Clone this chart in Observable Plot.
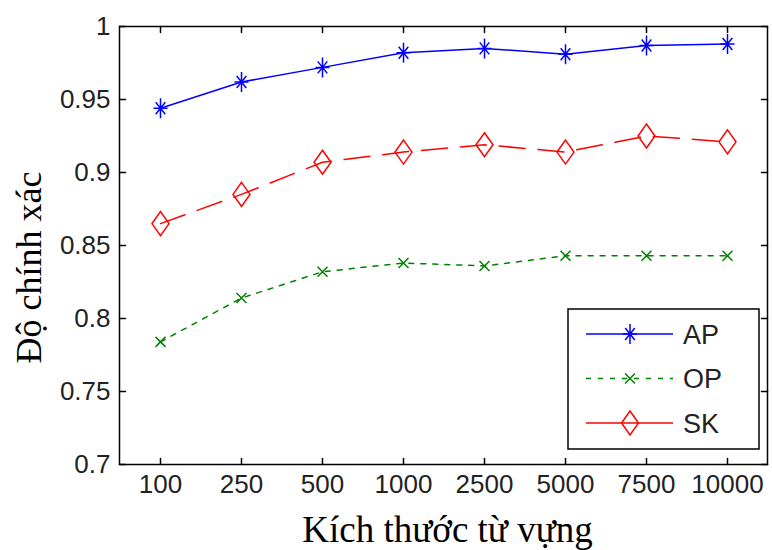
<!DOCTYPE html>
<html><head><meta charset="utf-8">
<script src="https://cdn.jsdelivr.net/npm/d3@7"></script>
<script src="https://cdn.jsdelivr.net/npm/@observablehq/plot@0.6"></script>
<style>body{margin:0;background:#fff}</style>
</head><body><div id="chart"></div>
<script>
const sizes = ["100","250","500","1000","2500","5000","7500","10000"];
const apValues = [0.944,0.962,0.972,0.982,0.985,0.981,0.987,0.988];
const opValues = [0.784,0.814,0.832,0.838,0.836,0.843,0.843,0.843];
const skValues = [0.865,0.885,0.907,0.914,0.919,0.914,0.925,0.921];
const yTicks = [0.7,0.75,0.8,0.85,0.9,0.95,1];
const seriesNames = ["AP","OP","SK"];
const xTitle = "Kích thước từ vựng";
const yTitle = "Độ chính xác";

const colors = {AP:"#0000ff", OP:"#008000", SK:"#ff0000"};
const dashes = {AP:null, OP:"5,7", SK:"26,13"};

function drawStar(ctx){ const h=10,w=7,d=6;
  ctx.moveTo(0,-h);ctx.lineTo(0,h);ctx.moveTo(-w,0);ctx.lineTo(w,0);
  ctx.moveTo(-d*0.8,-d);ctx.lineTo(d*0.8,d);ctx.moveTo(d*0.8,-d);ctx.lineTo(-d*0.8,d);}
function drawX(ctx){ const d=5;
  ctx.moveTo(-d,-d);ctx.lineTo(d,d);ctx.moveTo(d,-d);ctx.lineTo(-d,d);}
function drawDiamond(ctx){
  ctx.moveTo(0,-12);ctx.lineTo(8.5,0);ctx.lineTo(0,12);ctx.lineTo(-8.5,0);ctx.closePath();}
const drawers = {AP:drawStar, OP:drawX, SK:drawDiamond};
const symbols = Object.fromEntries(seriesNames.map(k=>[k,{draw:(ctx)=>drawers[k](ctx)}]));

const valuesBy = {AP:apValues, OP:opValues, SK:skValues};
const tables = Object.fromEntries(seriesNames.map(k=>[k, sizes.map((s,i)=>({size:s, value:valuesBy[k][i]}))]));

const tickShape = {draw(ctx,l){ctx.moveTo(0,0);ctx.lineTo(0,-l);}};
const tickOpts = {length:6, anchor:"start", shape:tickShape, stroke:"black", strokeWidth:1.5};

const marks = [
  Plot.frame({stroke:"black", strokeWidth:1.5}),
  Plot.vector(yTicks, {...tickOpts, y:d=>d, frameAnchor:"left", rotate:90}),
  Plot.vector(yTicks, {...tickOpts, y:d=>d, frameAnchor:"right", rotate:-90}),
  Plot.vector(sizes, {...tickOpts, x:d=>d, frameAnchor:"bottom", rotate:0}),
  Plot.vector(sizes, {...tickOpts, x:d=>d, frameAnchor:"top", rotate:180}),
  Plot.axisY({ticks:yTicks, tickSize:0, tickPadding:9, fontSize:26, tickFormat:d=>String(d), label:null, fill:"#222"}),
  Plot.axisX({tickSize:0, tickPadding:10, fontSize:26, label:null, fill:"#222"}),
  Plot.text([xTitle], {frameAnchor:"bottom", textAnchor:"middle", lineAnchor:"middle", dy:66, dx:4, fontSize:37, fontFamily:"Liberation Serif", fill:"black"}),
  Plot.text([yTitle], {frameAnchor:"left", textAnchor:"middle", lineAnchor:"middle", rotate:-90, dx:-90, dy:22, fontSize:36, fontFamily:"Liberation Serif", fill:"black"})
];
for (const k of seriesNames) {
  marks.push(Plot.line(tables[k], {x:"size", y:"value", stroke:colors[k], strokeWidth:1.5, strokeDasharray:dashes[k]}));
  marks.push(Plot.dot(tables[k], {x:"size", y:"value", symbol:symbols[k], stroke:colors[k], strokeWidth:1.5, fill:"none"}));
}

const chart = Plot.plot({
  width:772, height:550,
  marginLeft:119, marginRight:5, marginTop:26, marginBottom:86,
  style:{fontFamily:"Liberation Sans, Arial, sans-serif", background:"white"},
  x:{type:"point", domain:sizes, padding:0.5},
  y:{domain:[0.7,1]},
  marks
});
document.getElementById("chart").append(chart);

// legend
const svg = d3.select(chart);
const lg = svg.append("g");
lg.append("rect").attr("x",568).attr("y",309).attr("width",191).attr("height",140)
  .attr("fill","white").attr("stroke","black").attr("stroke-width",1.5);
seriesNames.forEach((k,i)=>{
  const y = 334 + i*44.5;
  lg.append("line").attr("x1",586).attr("x2",673).attr("y1",y).attr("y2",y)
    .attr("stroke",colors[k]).attr("stroke-width",1.5).attr("stroke-dasharray",k==="OP"?dashes.OP:null);
  const p = d3.path(); drawers[k](p);
  lg.append("path").attr("d",p.toString()).attr("transform",`translate(630,${y})`)
    .attr("fill","none").attr("stroke",colors[k]).attr("stroke-width",1.5);
  lg.append("text").attr("x",683).attr("y",y).attr("dy","0.36em").attr("font-size",27)
    .attr("text-anchor","start").attr("fill","#222").text(k);
});
</script></body></html>
